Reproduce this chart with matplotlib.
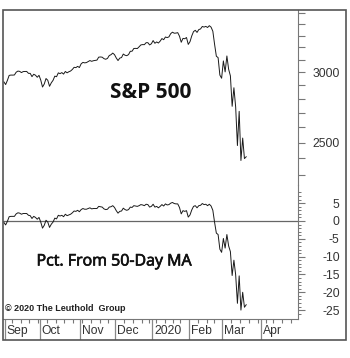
import numpy as np
import pandas as pd
import matplotlib
matplotlib.use('Agg')
import matplotlib.pyplot as plt
import matplotlib.patheffects as pe
from matplotlib.patches import Rectangle
from matplotlib.ticker import FixedLocator, NullFormatter, FuncFormatter

plt.rcParams['font.family'] = ['Liberation Sans', 'DejaVu Sans']

# Trading days, Aug 30 2019 .. Apr 30 2020 (US market holidays removed)
holidays = ['2019-09-02', '2019-11-28', '2019-12-25', '2020-01-01',
            '2020-01-20', '2020-02-17', '2020-04-10']
days = pd.bdate_range('2019-08-30', '2020-04-30')
days = days[~days.isin(pd.to_datetime(holidays))]

# S&P 500 daily close, Aug 30 2019 .. Mar 19 2020
spx = [2926.5,
       2906.3, 2937.8, 2976.0, 2978.7, 2978.4, 2979.4, 3000.9, 3009.6, 3007.4, 2998.0,
       3005.7, 3006.7, 3006.8, 2992.1, 2991.8, 2966.6, 2984.9, 2977.6, 2961.8, 2976.7,
       2940.3, 2887.6, 2910.6, 2952.0, 2938.8, 2893.1, 2919.4, 2938.1, 2970.3, 2966.2,
       2995.7, 2989.7, 2998.0, 2986.2, 3006.7, 2996.0, 3004.5, 3010.3, 3022.6, 3039.4,
       3036.9, 3046.8, 3037.6,
       3066.9, 3078.3, 3074.6, 3076.8, 3085.2, 3093.1, 3087.0, 3091.8, 3094.0, 3096.6,
       3120.5, 3122.0, 3120.2, 3108.5, 3103.5, 3110.3, 3133.6, 3140.5, 3153.6, 3141.0,
       3113.9, 3093.2, 3112.8, 3117.4, 3145.9, 3136.0, 3132.5, 3141.6, 3168.6, 3168.8,
       3191.5, 3192.5, 3191.1, 3205.4, 3221.2, 3224.0, 3223.4, 3239.9, 3240.0, 3221.3,
       3230.8,
       3257.9, 3234.9, 3246.3, 3237.2, 3253.1, 3274.7, 3265.4, 3288.1, 3283.2, 3289.3,
       3316.8, 3329.6, 3320.8, 3321.8, 3325.5, 3295.5, 3243.6, 3276.2, 3273.4, 3283.7,
       3225.5,
       3248.9, 3297.6, 3334.7, 3345.8, 3327.7, 3352.1, 3357.8, 3379.5, 3373.9, 3380.2,
       3370.3, 3386.2, 3373.2, 3337.8, 3225.9, 3128.2, 3116.4, 2978.8, 2954.2,
       3090.2, 3003.4, 3130.1, 3023.9, 2972.4, 2746.6, 2882.2, 2741.4, 2480.6, 2711.0,
       2386.1, 2529.2, 2398.1, 2409.4]

# Percent from 50-day moving average, same days
pct_ma = [-0.4,
          -1.1, -0.1, 1.2, 1.3, 1.3, 1.3, 2.0, 2.3, 2.2, 1.9,
          2.1, 2.1, 2.1, 1.6, 1.5, 0.7, 1.3, 1.0, 0.5, 1.0,
          -0.3, -2.0, -1.2, 0.2, -0.3, -1.8, -0.9, -0.3, 0.8, 0.6,
          1.6, 1.4, 1.6, 1.2, 1.9, 1.5, 1.7, 1.9, 2.3, 2.8,
          2.7, 3.0, 2.6,
          3.2, 3.5, 3.3, 3.3, 3.5, 3.7, 3.4, 3.5, 3.5, 3.5,
          4.1, 4.0, 3.9, 3.4, 3.2, 3.3, 3.9, 4.0, 4.3, 3.8,
          2.9, 2.2, 2.7, 2.8, 3.6, 3.2, 3.0, 3.2, 3.9, 3.8,
          4.3, 4.2, 4.1, 4.3, 4.6, 4.5, 4.3, 4.7, 4.6, 3.9,
          4.1,
          4.7, 3.9, 4.1, 3.7, 4.1, 4.6, 4.2, 4.8, 4.5, 4.6,
          5.0, 5.2, 4.9, 4.8, 4.8, 3.8, 2.0, 2.9, 2.7, 2.9,
          1.1,
          1.7, 3.1, 4.1, 4.3, 3.7, 4.3, 4.4, 4.9, 4.6, 4.7,
          4.3, 4.7, 4.2, 3.0, -0.4, -3.4, -3.8, -7.9, -8.8,
          -4.9, -7.6, -3.8, -7.0, -8.6, -15.3, -11.0, -15.1, -23.1, -15.4,
          -25.0, -20.0, -24.2, -23.5]

month_labels = ['Sep', 'Oct', 'Nov', 'Dec', '2020', 'Feb', 'Mar', 'Apr']
spx_major = [2500, 3000]
spx_minor = list(range(2300, 3600, 100))
pct_major = [5, 0, -5, -10, -15, -20, -25]
pct_minor = list(range(-26, 9))

W, H = 350, 358
fig = plt.figure(figsize=(W / 100, H / 100), dpi=100)

def box(x0, y0, x1, y1):
    # pixel box (top-left origin) -> figure fraction rect
    return [x0 / W, 1 - y1 / H, (x1 - x0) / W, (y1 - y0) / H]

ax1 = fig.add_axes(box(3, 10, 298, 185))
ax2 = fig.add_axes(box(3, 185, 298, 319))
ax3 = fig.add_axes(box(3, 319, 298, 340))

x = np.arange(len(spx))
xmin, xmax = -0.5, len(days) - 0.5
gray = '#777777'

ax1.plot(x, spx, color='#1a1a1a', lw=0.7)
ax1.set_yscale('log')
ax1.set_ylim(2239, 3527)
ax2.plot(x, pct_ma, color='#1a1a1a', lw=0.7)
ax2.axhline(0, color='#666666', lw=0.9, zorder=1)
ax2.set_ylim(-27.5, 10.1)

for ax in (ax1, ax2, ax3):
    ax.set_xlim(xmin, xmax)
    for s in ('left', 'top', 'bottom'):
        ax.spines[s].set_visible(False)
    ax.spines['right'].set_color(gray)
    ax.patch.set_alpha(0)

for ax in (ax1, ax2):
    ax.set_xticks([])
    ax.yaxis.tick_right()

ax1.yaxis.set_major_locator(FixedLocator(spx_major))
ax1.yaxis.set_minor_locator(FixedLocator([v for v in spx_minor if v not in spx_major]))
ax1.yaxis.set_major_formatter(FuncFormatter(lambda v, p: f'{v:.0f}'))
ax1.yaxis.set_minor_formatter(NullFormatter())
ax1.tick_params(axis='y', which='both', length=5, width=0.8, color=gray,
                labelsize=8.7, labelcolor='#333333', pad=25)

ax2.yaxis.set_major_locator(FixedLocator(pct_major))
ax2.yaxis.set_minor_locator(FixedLocator([v for v in pct_minor if v not in pct_major]))
ax2.yaxis.set_major_formatter(FuncFormatter(lambda v, p: f'{v:.0f}'))
ax2.tick_params(axis='y', which='major', length=5, width=0.8, color=gray,
                labelsize=8.7, labelcolor='#333333', pad=25)
ax2.tick_params(axis='y', which='minor', length=2.5, width=0.7, color=gray)

for ax in (ax1, ax2):
    for lbl in ax.get_yticklabels():
        lbl.set_horizontalalignment('right')

# date band: month separators + weekly ticks
ax3.spines['right'].set_visible(False)
ax3.spines['top'].set_visible(True)
ax3.spines['top'].set_color(gray)
ax3.set_ylim(0, 1)
ax3.set_yticks([])
months = pd.Series(range(len(days)), index=days)
month_start = months.groupby([days.year, days.month]).min().values
week_start = months.groupby(days.to_period('W')).min().values
week_ticks = [i - 0.5 for i in week_start if i not in month_start]
ax3.xaxis.tick_top()
ax3.set_xticks(week_ticks)
ax3.set_xticklabels([])
ax3.tick_params(axis='x', direction='in', length=3, width=0.8, color=gray)
for i, lab in zip(month_start[1:], month_labels):
    ax3.axvline(i - 0.5, color='#888888', lw=0.9)
    ax3.text(i - 0.5 + 1.0, 0.42, lab, fontsize=8.7, color='#333333',
             ha='left', va='center')

# outer frame
fig.patches.append(Rectangle((3 / W, 1 - 340 / H), 343 / W, 330 / H,
                             transform=fig.transFigure, fill=False,
                             edgecolor='#555555', lw=1.2))

fig.text(151 / W, 1 - 92.5 / H, 'S&P 500', fontsize=15, fontweight='bold',
         family='Open Sans', ha='center', va='center', color='#111111')
fig.text(114 / W, 1 - 261.5 / H, 'Pct. From 50-Day MA', fontsize=11.5,
         family='Open Sans', ha='center', va='center', color='#111111',
         path_effects=[pe.withStroke(linewidth=0.5, foreground='#111111')])
fig.text(5 / W, 1 - 308.5 / H, '\u00a9 2020 The Leuthold  Group', fontsize=6.5,
         fontweight='bold', ha='left', va='center', color='#222222')

fig.savefig('out.png', dpi=100)
